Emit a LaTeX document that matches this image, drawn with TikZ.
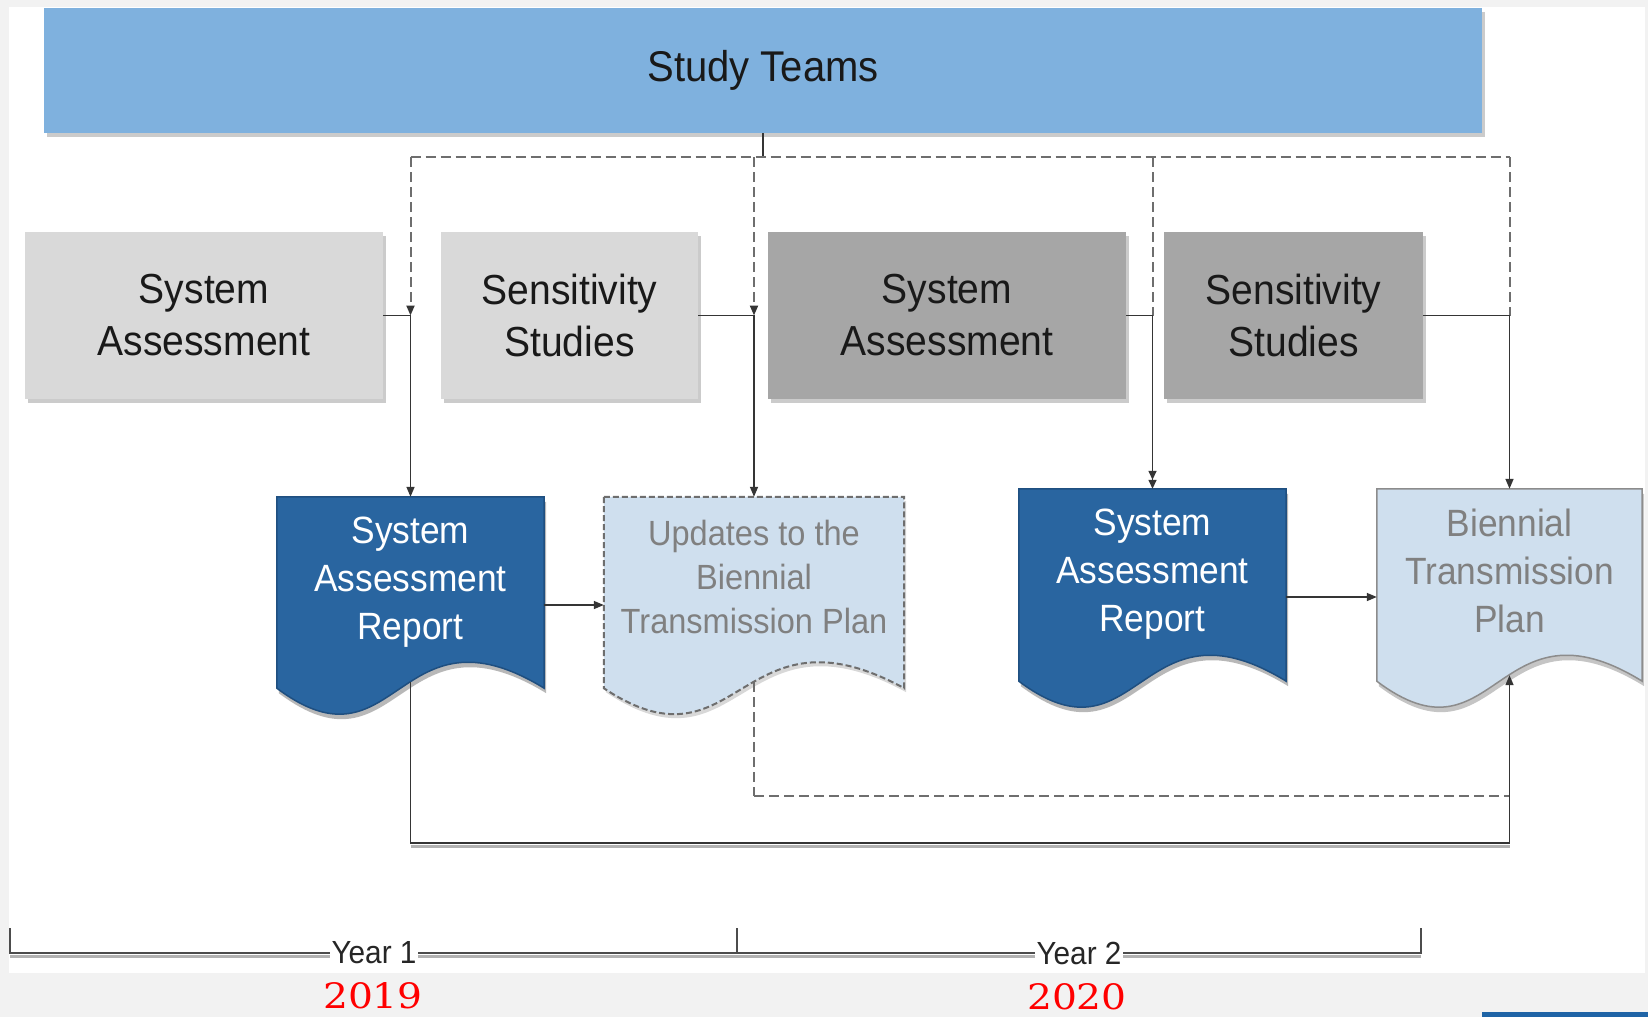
\documentclass[tikz,border=0pt]{standalone}
\usepackage{fontspec}
\setmainfont[FakeStretch=0.93]{Liberation Sans}
\newfontfamily\yrfont[FakeStretch=1.12]{DejaVu Serif}
\usetikzlibrary{shadows,calc,arrows.meta}
\definecolor{stblue}{HTML}{7FB1DE}
\definecolor{lgray}{HTML}{D9D9D9}
\definecolor{dgray}{HTML}{A6A6A6}
\definecolor{sarblue}{HTML}{2965A0}
\definecolor{sarline}{HTML}{1F4F80}
\definecolor{docblue}{HTML}{CFDFEE}
\definecolor{doctext}{HTML}{808080}
\definecolor{linec}{HTML}{353535}
\definecolor{dashc}{HTML}{6E6E6E}
\definecolor{bgc}{HTML}{F2F2F2}
\definecolor{logoblue}{HTML}{1F64A6}
\newcommand\docshape[2]{\path[#2] (#1.north west) -- (#1.north east) -- (#1.south east)
  .. controls ($(#1.south west)!0.45!(#1.south east)+(0,-90)$) and ($(#1.south west)!0.45!(#1.south east)+(0,90)$) .. (#1.south west) -- cycle;}
\begin{document}
\begin{tikzpicture}[x=1pt,y=-1pt,
  shadowed/.style={drop shadow={shadow xshift=3pt,shadow yshift=-4pt,fill=black!40}},
  bar/.style={rectangle,fill=stblue,inner sep=0pt,font=\fontsize{43}{52}\selectfont,text=black!90,shadowed},
  stage/.style={rectangle,inner sep=0pt,align=center,font=\fontsize{42}{52}\selectfont,text=black!90,shadowed},
  docarea/.style={rectangle,inner sep=0pt},
  doctxt/.style={align=center,inner sep=0pt},
  conn/.style={draw=linec,line width=1.5pt},
  arr/.style={-{Triangle[length=10pt,width=8pt,color=linec]}},
  dashl/.style={draw=dashc,line width=2.5pt,dash pattern=on 10pt off 5pt},
  yearlbl/.style={fill=white,inner xsep=2pt,inner ysep=3pt,font=\fontsize{32}{38}\selectfont,text=black!85},
  redyear/.style={text=red,inner sep=0pt,font=\yrfont\fontsize{35}{40}\selectfont}]
\fill[bgc] (0,0) rectangle (1648,1017);
\useasboundingbox (0,0) rectangle (1648,1017);
\fill[white] (9,7) rectangle (1645,973);
\fill[logoblue] (1482,1012) rectangle (1648,1017);

% top bar
\node[bar,minimum width=1438,minimum height=125] (st) at (763,70.5) {Study Teams};

% stage boxes
\node[stage,fill=lgray,minimum width=358,minimum height=167] (sa1) at (204,315.5) {System\\Assessment};
\node[stage,fill=lgray,minimum width=257,minimum height=167] (ss1) at (569.5,315.5) {Sensitivity\\Studies};
\node[stage,fill=dgray,minimum width=358,minimum height=167] (sa2) at (947,315.5) {System\\Assessment};
\node[stage,fill=dgray,minimum width=259,minimum height=167] (ss2) at (1293.5,315.5) {Sensitivity\\Studies};

% documents
\node[docarea,minimum width=267,minimum height=191] (sar1) at (410.5,592.5) {};
\node[docarea,minimum width=300,minimum height=191] (ubt) at (754,592.5) {};
\node[docarea,minimum width=267,minimum height=192] (sar2) at (1152.5,585) {};
\node[docarea,minimum width=265,minimum height=192] (btp) at (1509.5,585) {};
\docshape{sar1}{fill=sarblue,draw=sarline,line width=1.5pt,drop shadow={shadow xshift=2pt,shadow yshift=-5pt,fill=black!55}}
\docshape{ubt}{fill=docblue,draw=dashc,line width=2pt,dash pattern=on 6pt off 3pt,drop shadow={shadow xshift=2pt,shadow yshift=-4pt,fill=black!30}}
\docshape{sar2}{fill=sarblue,draw=sarline,line width=1.5pt,drop shadow={shadow xshift=2pt,shadow yshift=-5pt,fill=black!55}}
\docshape{btp}{fill=docblue,draw=black!45,line width=1.5pt,drop shadow={shadow xshift=2pt,shadow yshift=-5pt,fill=black!45}}
\node[doctxt,text=white,font=\fontsize{38}{48}\selectfont] (sar1t) at ($(sar1.center)+(0,-10)$) {System\\Assessment\\Report};
\node[doctxt,text=doctext,font=\fontsize{35}{44}\selectfont] (ubtt) at ($(ubt.center)+(0,-15.5)$) {Updates to the\\Biennial\\Transmission Plan};
\node[doctxt,text=white,font=\fontsize{38}{48}\selectfont] (sar2t) at ($(sar2.center)+(0,-10.5)$) {System\\Assessment\\Report};
\node[doctxt,text=doctext,font=\fontsize{38}{48}\selectfont] (btpt) at ($(btp.center)+(0,-14)$) {Biennial\\Transmission\\Plan};

% helper levels
\coordinate (bus) at (0,157);
\coordinate (low) at (0,796);
\coordinate (loop) at (0,843);

% connectors from study teams
\draw[conn] (st.south) -- (st.south |- bus);
\draw[dashl] (sar1.north |- bus) -- (btp.north |- bus);
\draw[dashl,line width=2pt,arr] (sar1.north |- bus) -- (sar1.north |- sa1.east);
\draw[dashl,line width=2pt,arr] (ubt.north |- bus) -- (ubt.north |- ss1.east);
\draw[dashl,line width=2pt] (sar2.north |- bus) -- (sar2.north |- sa2.east);
\draw[dashl,line width=2pt] (btp.north |- bus) -- (btp.north |- ss2.east);

% stage to document
\draw[conn,arr] (sa1.east) -| (sar1.north);
\draw[conn,arr] (ss1.east) -| (ubt.north);
\draw[conn,-{Triangle[length=9pt,width=8pt,color=linec] Triangle[length=9pt,width=8pt,color=linec]}] (sa2.east) -| (sar2.north);
\draw[conn,arr] (ss2.east) -| (btp.north);

% document to document
\draw[conn,arr] (sar1.east |- 0,605) -- (ubt.west |- 0,605);
\draw[conn,arr] (sar2.east |- 0,597) -- (btp.west |- 0,597);

% lower loops
\draw[dashl,line width=2pt] ($(ubt.south)+(0,-6)$) -- (ubt.south |- low);
\draw[dashl] (ubt.south |- low) -- (btp.south |- low);
\draw[black!30,line width=3pt] ($(sar1.south |- loop)+(0,3)$) -- ($(btp.south |- loop)+(0,3)$);
\draw[conn,arr] ($(sar1.south)+(0,-6)$) -- (sar1.south |- loop) -- (btp.south |- loop) -- ($(btp.south)+(0,-6)$);

% timeline
\coordinate (t0) at (10,953);
\coordinate (tm) at (737,953);
\coordinate (t1) at (1421,953);
\draw[black!30,line width=3pt] ($(t0)+(0,3)$) -- ($(t1)+(0,3)$);
\draw[black!70,line width=1.5pt] ($(t0)+(0,-25)$) -- (t0) -- (t1) -- ($(t1)+(0,-25)$);
\draw[black!70,line width=1.5pt] (tm) -- ($(tm)+(0,-25)$);
\node[yearlbl] (yr1) at (374,953) {Year 1};
\node[yearlbl] (yr2) at (1079,953) {Year 2};
\node[redyear] (y19) at (373,996) {2019};
\node[redyear] (y20) at (1077,997) {2020};
\end{tikzpicture}
\end{document}
